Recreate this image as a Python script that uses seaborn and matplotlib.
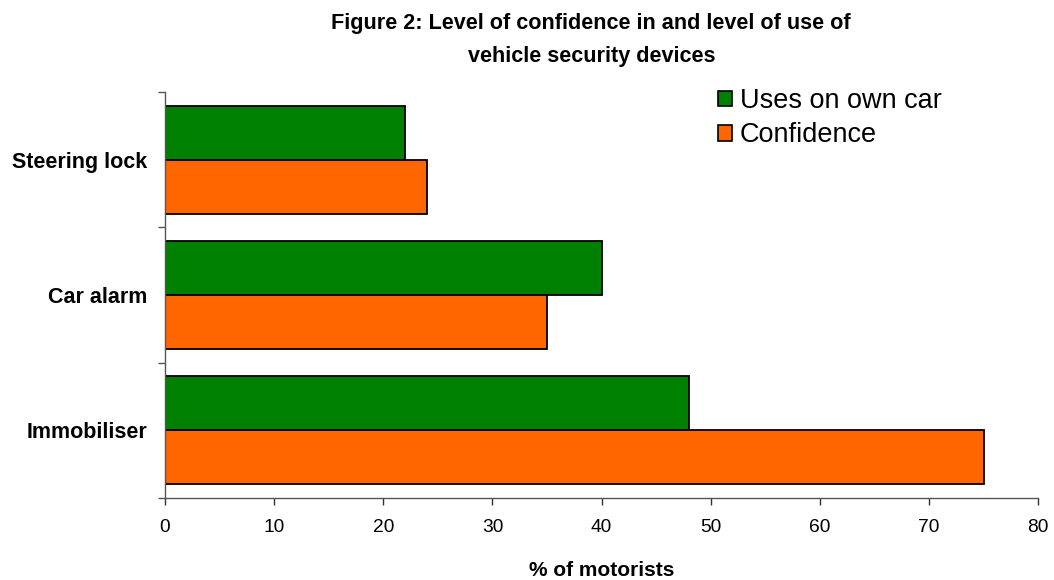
import matplotlib
matplotlib.use("Agg")
import matplotlib.pyplot as plt
from matplotlib.patches import Patch
from matplotlib.ticker import FixedLocator
import pandas as pd
import seaborn as sns

# Data
devices = ["Steering lock", "Car alarm", "Immobiliser"]
series_names = ["Uses on own car", "Confidence"]
uses_on_own_car = [22, 40, 48]
confidence = [24, 35, 75]
x_ticks = [0, 10, 20, 30, 40, 50, 60, 70, 80]

colors = {"Uses on own car": "#008000", "Confidence": "#FF6600"}

df = pd.DataFrame({
    "Device": devices * 2,
    "Series": [series_names[0]] * len(devices) + [series_names[1]] * len(devices),
    "Value": uses_on_own_car + confidence,
})

sns.set_theme(style="white")
plt.rcParams["font.family"] = ["Liberation Sans", "DejaVu Sans"]
plt.rcParams["text.color"] = "black"
plt.rcParams["axes.labelcolor"] = "black"
plt.rcParams["xtick.color"] = "black"
plt.rcParams["ytick.color"] = "black"

fig = plt.figure(figsize=(10.54, 5.80), dpi=100)
ax = fig.add_axes([0.1565, 0.1414, 0.8285, 0.6996])

sns.barplot(
    data=df, y="Device", x="Value", hue="Series",
    order=devices, hue_order=series_names, palette=colors,
    orient="h", width=0.8, edgecolor="black", linewidth=1.3,
    saturation=1, legend=False, ax=ax,
)

ax.set_xlim(0, 80)
ax.set_ylim(2.5, -0.5)
ax.set_xticks(x_ticks)
ax.set_xticklabels([str(t) for t in x_ticks], fontsize=13.8)

# Category labels at centres, tick marks at the category boundaries
ax.set_yticks(range(len(devices)))
ax.set_yticklabels(devices, fontsize=15.5, fontweight="bold")
ax.yaxis.set_minor_locator(FixedLocator([-0.5, 0.5, 1.5, 2.5]))
ax.tick_params(axis="y", which="major", left=True, length=0, pad=13)
ax.tick_params(axis="y", which="minor", left=True, length=5, width=1,
               color="#555555", direction="out")
ax.tick_params(axis="x", which="major", bottom=True, length=5, width=1,
               color="#333333", direction="out", pad=10)

for side in ["top", "right"]:
    ax.spines[side].set_visible(False)
ax.spines["left"].set_color("#555555")
ax.spines["bottom"].set_color("#555555")
ax.spines["left"].set_linewidth(1)
ax.spines["bottom"].set_linewidth(1)

ax.set_ylabel("")
ax.set_xlabel("% of motorists", fontsize=15, fontweight="bold", labelpad=18)

fig.suptitle(
    "Figure 2: Level of confidence in and level of use of\nvehicle security devices",
    fontsize=15.6, fontweight="bold", x=0.561, y=0.977, va="top", linespacing=1.75,
)

handles = [Patch(facecolor=colors[s], edgecolor="black", linewidth=1.2, label=s)
           for s in series_names]
ax.legend(
    handles=handles, loc="upper left", bbox_to_anchor=(0.605, 1.07),
    frameon=False, fontsize=19.5, handlelength=0.52, handleheight=0.52,
    handletextpad=0.3, labelspacing=0.3,
)

fig.savefig("out.png", dpi=100)
